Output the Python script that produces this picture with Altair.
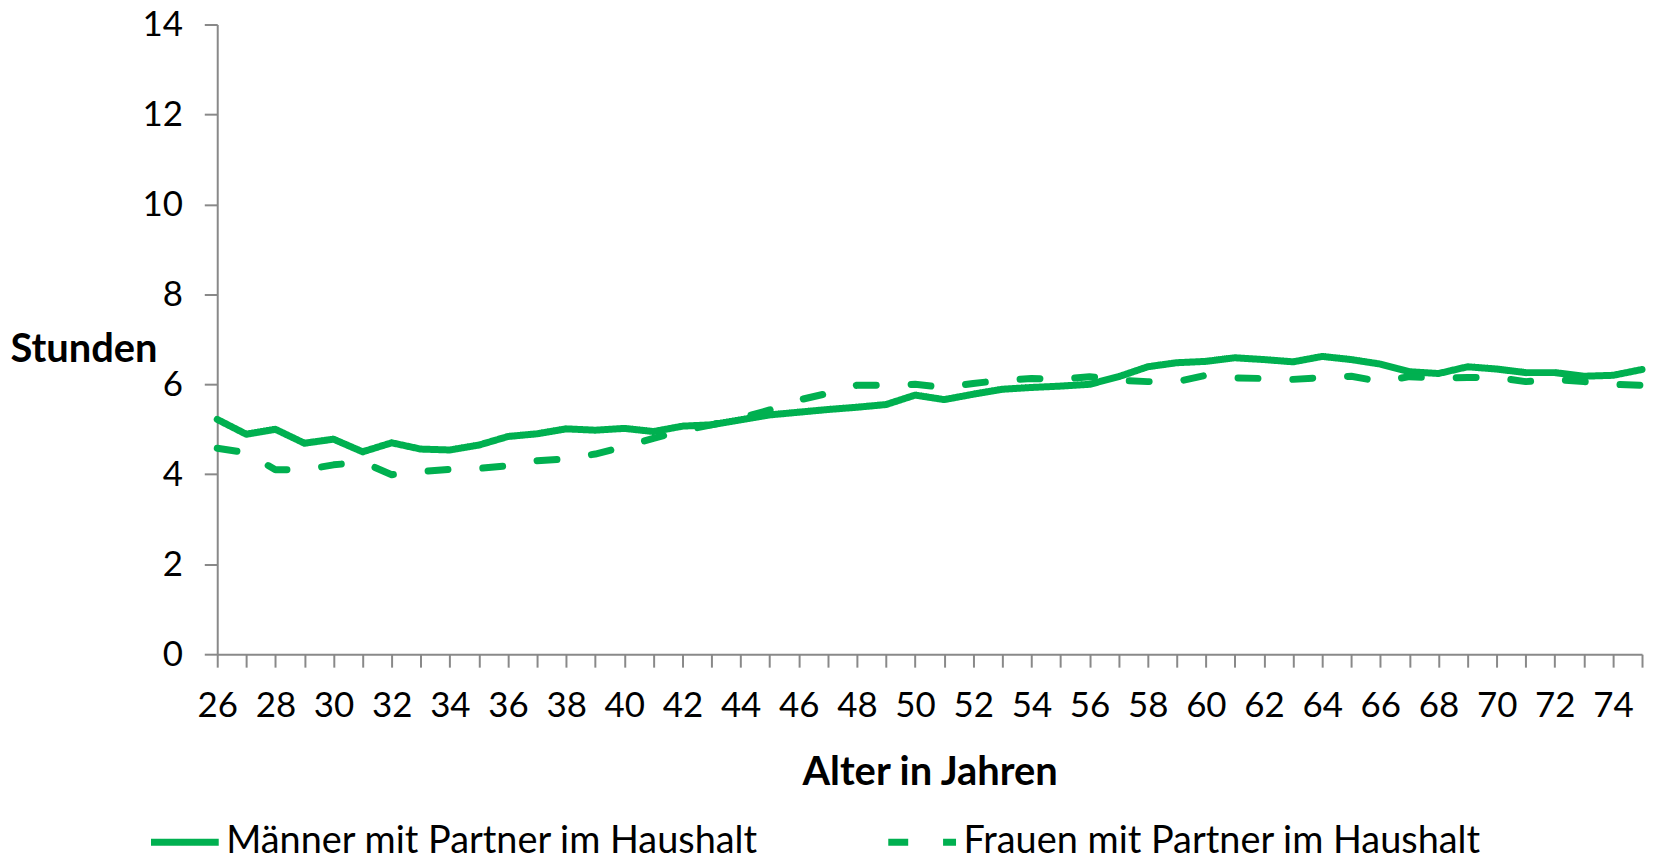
import altair as alt
import pandas as pd

ages = list(range(26, 76))
maenner = [5.22, 4.89, 5.00, 4.69, 4.78, 4.50, 4.70, 4.56, 4.54, 4.65,
           4.84, 4.90, 5.01, 4.98, 5.02, 4.95, 5.07, 5.10, 5.21, 5.32,
           5.38, 5.44, 5.49, 5.55, 5.76, 5.66, 5.78, 5.89, 5.93, 5.96,
           6.00, 6.17, 6.39, 6.48, 6.51, 6.59, 6.55, 6.50, 6.62, 6.55,
           6.45, 6.28, 6.24, 6.39, 6.34, 6.26, 6.26, 6.18, 6.20, 6.33]
frauen = [4.58, 4.48, 4.10, 4.10, 4.21, 4.27, 3.99, 4.06, 4.11, 4.13,
          4.19, 4.30, 4.34, 4.45, 4.61, 4.80, 4.97, 5.10, 5.25, 5.43,
          5.65, 5.80, 5.98, 5.98, 6.00, 5.93, 6.02, 6.09, 6.13, 6.11,
          6.17, 6.09, 6.06, 6.06, 6.20, 6.14, 6.13, 6.11, 6.15, 6.18,
          6.06, 6.17, 6.14, 6.15, 6.15, 6.06, 6.11, 6.06, 6.00, 5.98]
series_names = ["Männer mit Partner im Haushalt", "Frauen mit Partner im Haushalt"]
y_ticks = [0, 2, 4, 6, 8, 10, 12, 14]

rows = []
for i, (name, vals) in enumerate(zip(series_names, [maenner, frauen])):
    for a, v in zip(ages, vals):
        rows.append({"Alter": a, "Stunden": v, "Serie": name, "order": i})
df = pd.DataFrame(rows)

FONT = "Lato"
GREEN = "#00B050"
GRAY = "#898989"

chart = alt.Chart(df).mark_line(
    strokeWidth=7, strokeCap="round", strokeJoin="round", color=GREEN
).encode(
    x=alt.X("Alter:Q",
            scale=alt.Scale(domain=[26, 75], nice=False, zero=False),
            axis=alt.Axis(values=ages, labelExpr="datum.value % 2 == 0 ? datum.label : ''",
                          title="Alter in Jahren", titleX=715, titleY=119,
                          titleBaseline="middle", titleAlign="center",
                          labelFlush=False, labelOverlap=False, labelBound=False,
                          tickSize=13, labelPadding=22, grid=False)),
    y=alt.Y("Stunden:Q",
            scale=alt.Scale(domain=[0, 14], nice=False),
            axis=alt.Axis(values=y_ticks, title="Stunden", titleAngle=0,
                          titleAlign="left", titleBaseline="middle",
                          titleX=-208, titleY=326,
                          labelFlush=False, labelOverlap=False,
                          tickSize=13, labelPadding=22, grid=False)),
    strokeDash=alt.StrokeDash("Serie:N",
                              scale=alt.Scale(domain=series_names, range=[[1, 0], [20, 35]]),
                              legend=alt.Legend(title=None, orient="none", direction="horizontal",
                                                legendX=-70, legendY=783,
                                                symbolType="stroke", symbolSize=4624,
                                                symbolStrokeWidth=7, symbolStrokeColor=GREEN,
                                                symbolOpacity=1,
                                                labelFont=FONT, labelFontSize=38, labelColor="black",
                                                labelOffset=4, columnPadding=115,
                                                labelLimit=1000)),
    detail="Serie:N",
    order="order:Q",
).properties(
    width=1430, height=632,
    autosize=alt.AutoSizeParams(type="none"),
    padding={"left": 210, "top": 15, "right": 4, "bottom": 203},
).configure_view(
    stroke=None
).configure_axis(
    labelFont=FONT, labelFontSize=35, labelColor="black",
    titleFont=FONT, titleFontSize=40, titleFontWeight="bold", titleColor="black",
    domainColor=GRAY, domainWidth=2, tickColor=GRAY, tickWidth=2,
)

chart.save("out.html", embed_options={"renderer": "svg", "actions": False})
